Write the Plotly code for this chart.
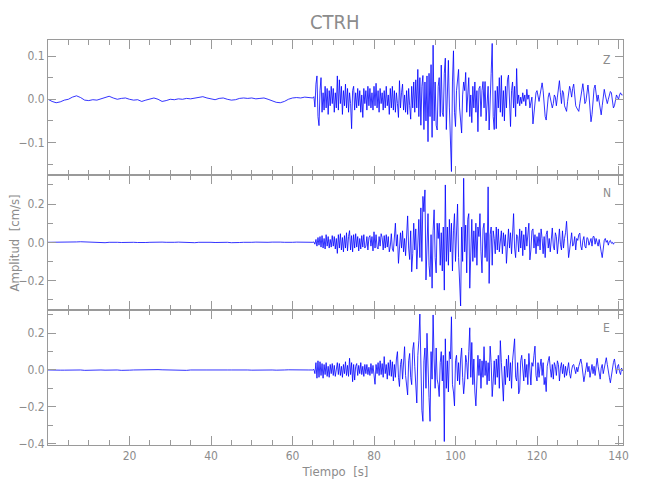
import numpy as np
import plotly.graph_objects as go
from plotly.subplots import make_subplots

# ---------------- data (velocity, units of 0.001 cm/s) ----------------
PRE_T0, PRE_DT = 0.0, 1.0      # pre-event samples: 0..64 s, 1 s apart
EV_T0, EV_DT = 65.0, 0.25      # event samples: from 65 s, 0.25 s apart

z_pre = [0, -5, -8, -6, -2, 0, 5, 8, 4, -2, -3, -1, -2, 1, 5, 7, 3, 0, 2, 3,
         0, -2, -1, -5, -2, 1, 3, 0, -5, -3, 0, -1, 1, 0, 2, 1, 3, 5, 6, 3,
         1, -1, 2, 3, 0, -2, -1, 2, 3, 2, 3, 1, 2, 3, 0, -3, -7, -8, -5, 0,
         3, 4, 3, 5, 4]
n_pre = [0, 0, -1, 0, 1, 0, 1, 2, 3, 2, 0, -1, -3, -4, -2, 0, 1, 0, -1, 0,
         1, 0, -1, -2, -1, 0, 1, 2, 1, 0, -1, 0, 1, 0, -3, -4, -2, 0, 1, 2,
         0, -1, 0, 1, 0, -2, -3, -1, 0, -1, 0, 1, 0, -1, 0, 1, 2, 1, 0, -1,
         0, 1, 0, 1, 0]
e_pre = [0, 1, 0, -1, -1, 0, 0, 1, 0, -2, -1, 0, 1, 0, -1, 0, 1, 0, -2, -3,
         -1, 0, 1, 0, 1, 2, 3, 2, 1, 0, 0, -1, -2, -3, -2, 0, 1, 0, -1, 0,
         0, -1, -2, -1, 0, 0, 1, 2, 1, 0, -1, 0, 1, 0, 1, 0, -1, -2, 0, 1,
         0, 0, 1, 0, 0]

z_event = [
    3, 6, -18, 35,   54, -40, -61, 20,   50, -30, 15, -25,   30, -20, 25, -35,
    20, -15, 30, -10,   25, -30, 15, -20,   54, -25, 45, -10,   30, -35, 20, -15,
    35, -20, 25, -30,   15, -10, -68, 20,   30, -25, 15, -20,   25, -15, 20, -30,
    10, -42, 25, -10,   20, -25, 30, -15,   25, -20, 15, -25,   30, -15, 37, -20,
    20, -30, 25, -10,   15, -25, 20, -20,   30, -15, 10, -35,   25, -20, 30, -25,
    20, -30, 15, -10,   -42, 43, -20, 15,   35, -25, 10, -30,   20, -35, 25, -15,
    -46, 30, -20, 40,   -30, 45, -20, 69,   -40, 50, -60, 30,   55, -70, 40, -50,
    54, -98, 60, -40,   80, -88, 125, -50,   40, -60, -71, 30,   50, -40, 79, -30,
    -40, 60, 95, -70,   40, 90, -20, -100,  -167, 40, 112, -30,  -63, 20, 40, 69,
    -20, -50, -78, 10,   40, 20, 62, -30,   20, 50, -40, 10,   -54, 30, -20, 40,
    -30, 20, -75, 25,   30, -40, 20, 41,   -20, 41, -50, 10,   30, -71, 20, 60,
    129, -40, -70, 20,   -68, 30, -20, 50,   -30, 55, -40, 20,   -50, 30, -20, 45,
    56, -30, -63, 20,   40, -20, 30, -40,   71, -10, 10, -15,   5, -10, 15, -5,
    10, -15, 23, 0,   10, -20, -10, 5,   -57, -30, 0, 15,   20, 10, -5, 10,
    25, 38, 20, -15,   -40, -48, -20, 5,   15, 5, -10, -20,   -10, 10, 5, -15,
    5, 30, 43, 15,   -10, 20, 15, -15,   -25, -28, -5, 15,   30, 20, 5, 25,
    35, 10, -15, -20,   -25, -28, -10, 10,   28, 36, 15, -10,   -5, 15, 33, 10,
    -30, -52, -35, 5,   25, 33, 15, -5,   10, -5, -25, -36,   -15, 15, 23, 10,
    0, -10, 0, 10,   18, 15, -5, -20,   -15, 0, 10, 5,   0, 10, 15, 10,
    10]

n_event = [
    0, 2, -10, 15,   -20, 25, -15, 30,   -25, 35, -30, 20,   -35, 40, -20, 30,
    -30, 15, -25, 35,   -20, 30, -35, 20,   -58, 40, -30, 45,   -40, 25, -50, 35,
    -30, 50, -45, 30,   61, -40, 35, -50,   40, -30, 45, -25,   30, -45, 20, -35,
    35, -25, 40, -30,   -20, 30, -40, 25,   35, -20, 30, -45,   55, -30, 40, -25,
    -35, 30, -20, 45,   25, -40, 35, -30,   40, -25, 30, -50,   -20, 45, -35, -48,
    30, 100, -20, 40,   -110, -40, 50, -30,   60, -50, 20, -70,   80, 138, -30, -90,
    60, -154, -60, 100,   -40, 70, -140, 30,   120, -80, 180, -100,   240, 160, 274, -197,
    -60, 150, -120, -180,   40, -240, 60, 170,   -80, -160, 100, 20,   100, -120, 50, -150,
    80, -250, 300, -100,   80, -120, 120, -50,   100, -150, 60, 150,   -100, 120, 200, -80,
    -200, -333, 80, -100,   335, -50, 90, -160,   120, 150, -240, -60,   120, -100, 60, -80,
    100, -120, 80, 30,   150, -50, -160, 70,   100, -80, 50, -100,   290, -215, 40, 80,
    -120, 60, 20, -60,   80, -40, 70, -50,   30, 60, -60, 50,   -20, 40, -110, 30,
    70, -30, 50, -60,   90, 150, -30, -80,   40, 30, -50, 70,   -30, 60, -70, 40,
    -40, 80, -20, 50,   100, -92, -40, 60,   70, -30, 40, -60,   30, -20, 50, -40,
    70, 20, -60, 30,   -80, 40, 60, -30,   20, -50, 40, 75,   -20, -40, 50, 30,
    -60, 20, 70, -10,   -40, 60, -30, 20,   50, 110, -30, -80,   -40, 20, 50, -20,
    -10, 30, -40, 20,   10, 40, 48, -20,   -40, 10, 30, -20,   -30, 25, 20, -15,
    10, 20, -20, 30,   30, -10, 20, 5,   -20, 15, -30, -50,   -80, -20, 10, 20,
    0, 10, -15, 5,   10, -5, 0, -10,   0]

e_event = [
    0, 3, -20, 40,   -45, 50, -40, 45,   -30, 35, -45, 30,   -25, 40, -35, 20,
    -40, 30, -20, 35,   -30, 25, -35, 20,   40, -25, 35, -30,   20, -40, 30, -20,
    45, -30, 25, -35,   64, -25, 40, -64,   30, -55, 20, 35,   -30, 25, -20, 40,
    -25, 20, -35, 30,   -20, 30, -25, 15,   -30, 35, -20, 25,   -40, -78, 30, -20,
    40, -30, 50, -25,   35, -40, 73, -20,   30, -50, 40, -30,   55, -35, 45, -60,
    30, -40, 60, 100,   -40, -90, 30, 60,   -50, 80, 127, -30,   -100, -136, 50, 90,
    -40, -80, 110, 150,   20, -120, -180, 80,   160, 305, -100, -220,   -280, 50, 120, -100,
    200, -60, -150, -280,   100, -50, 300, 60,   -100, 120, -50, -80,   -145, 40, 100, -60,
    80, -390, 170, -100,   50, -120, 100, 60,   290, -80, -120, -196,   50, 80, -60, 40,
    -80, 60, 120, -40,   -130, -60, 80, 40,   -50, 100, 230, -40,   150, -80, 60, -120,
    -196, -60, 80, -30,   60, -100, 50, -40,   127, -30, 50, -80,   40, -60, 130, 40,
    -145, -60, 50, -80,   60, -40, 80, -100,   160, 40, -60, -170,   20, -80, 60, -40,
    80, -60, 40, -100,   50, 120, 170, -40,   -60, 40, -130, -110,   50, 80, -20, -60,
    60, -40, 30, -80,   90, -20, -82, 40,   20, 80, 130, -30,   -60, 40, -40, 20,
    60, -30, 40, -80,   -40, -118, 20, 50,   74, 10, -40, 30,   -50, 40, 20, -30,
    50, 30, -60, 10,   40, -20, 30, -40,   20, -30, 10, 40,   -20, -45, 0, 25,
    30, 10, -20, 15,   -10, 20, 40, 60,   30, -20, -64, -30,   20, 40, -10, 20,
    -40, 10, 30, -20,   20, -30, 40, 64,   20, -30, -50, 10,   30, -20, 15, 40,
    67, 30, -20, -40,   -70, -30, 20, 40,   60, 10, -20, 20,   30, -10, -25, 10,
    -5]

components = ["Z", "N", "E"]
pre_series = [z_pre, n_pre, e_pre]
event_series = [z_event, n_event, e_event]

y_ranges = [[-0.175, 0.137], [-0.354, 0.352], [-0.409, 0.327]]
y_dticks = [0.1, 0.2, 0.2]
y_minor = [0.05, 0.1, 0.1]
x_range = [0, 141.1]
x_tickvals = [20, 40, 60, 80, 100, 120, 140]

# ---------------- figure ----------------
GREY = "#8c8c8c"
AXC = "#9a9a9a"
FONT = "Liberation Sans Narrow, DejaVu Sans Condensed, Liberation Sans, sans-serif"

fig = make_subplots(rows=3, cols=1, shared_xaxes=True, vertical_spacing=0)

for i, (pre, ev) in enumerate(zip(pre_series, event_series)):
    t_pre = PRE_T0 + PRE_DT * np.arange(len(pre))
    t_ev = EV_T0 + EV_DT * np.arange(len(ev))
    t = np.concatenate([t_pre, t_ev])
    v = np.concatenate([np.array(pre, float), np.array(ev, float)]) / 1000.0
    fig.add_trace(go.Scatter(x=t, y=v, mode="lines",
                             line=dict(color="#0000ff", width=0.8),
                             hoverinfo="skip", showlegend=False),
                  row=i + 1, col=1)

for i in range(3):
    fig.update_yaxes(range=y_ranges[i], dtick=y_dticks[i], tick0=0,
                     tickformat=".1f", row=i + 1, col=1)
    fig.update_yaxes(minor=dict(dtick=y_minor[i], tick0=0, ticks="inside",
                                ticklen=5, tickcolor=AXC),
                     row=i + 1, col=1)

fig.update_yaxes(showline=True, linecolor=AXC, linewidth=1, mirror="ticks",
                 ticks="inside", ticklen=8, tickcolor=AXC, showgrid=False,
                 zeroline=False, automargin=False,
                 tickfont=dict(family=FONT, size=12, color=GREY))
fig.update_xaxes(range=x_range, showline=True, linecolor=AXC, linewidth=1,
                 mirror="ticks", ticks="inside", ticklen=9, tickcolor=AXC,
                 tickmode="array", tickvals=x_tickvals,
                 showgrid=False, zeroline=False, automargin=False,
                 minor=dict(dtick=5, tick0=0, ticks="inside", ticklen=5,
                            tickcolor=AXC),
                 tickfont=dict(family=FONT, size=12, color=GREY))
fig.update_xaxes(title=dict(text="Tiempo  [s]", standoff=4,
                            font=dict(family=FONT, size=13, color=GREY)),
                 row=3, col=1)

# panel labels
label_y = [0.951, 0.622, 0.289]
for name, yy in zip(components, label_y):
    fig.add_annotation(text=name, xref="paper", yref="paper", x=0.972, y=yy,
                       xanchor="center", yanchor="middle", showarrow=False,
                       font=dict(family=FONT, size=12, color=GREY))

fig.add_annotation(text="Amplitud  [cm/s]", xref="paper", yref="paper",
                   x=-0.0574, y=0.5, xanchor="center", yanchor="middle",
                   textangle=-90, showarrow=False,
                   font=dict(family=FONT, size=13, color=GREY))

# page body has an 8 px default margin, so the figure is sized to fit inside
fig.update_layout(
    width=642, height=492,
    margin=dict(l=40, r=27, t=32, b=55),
    paper_bgcolor="white", plot_bgcolor="white",
    title=dict(text="CTRH", x=0.509, xanchor="center", y=0.9715,
               yanchor="middle",
               font=dict(family=FONT, size=20, color=GREY)),
    showlegend=False,
)

fig.write_html("out.html")
